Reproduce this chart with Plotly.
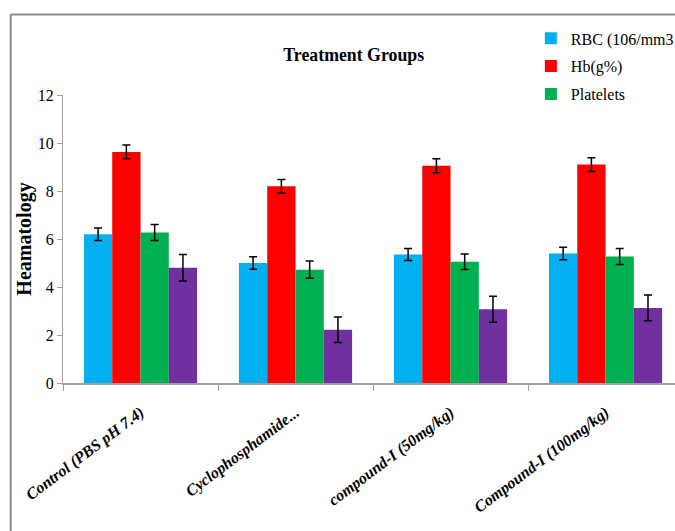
import plotly.graph_objects as go

# Treatment groups on the x axis
groups = ["Control (PBS pH 7.4)", "Cyclophosphamide...", "compound-I (50mg/kg)", "Compound-I (100mg/kg)"]

# Haematology parameters (mean values)
rbc = [6.2, 5.0, 5.35, 5.4]
hb = [9.63, 8.2, 9.05, 9.1]
platelets = [6.27, 4.72, 5.05, 5.27]
wbc = [4.8, 2.22, 3.07, 3.13]

# Error bar half-widths
rbc_err = [0.26, 0.26, 0.25, 0.26]
hb_err = [0.29, 0.28, 0.29, 0.29]
platelets_err = [0.33, 0.36, 0.32, 0.33]
wbc_err = [0.55, 0.53, 0.54, 0.54]

series = [
    ("RBC (106/mm3", rbc, rbc_err, "#00B0F0", True),
    ("Hb(g%)", hb, hb_err, "#FF0000", True),
    ("Platelets", platelets, platelets_err, "#00B050", True),
    ("WBC", wbc, wbc_err, "#7030A0", False),
]

fig = go.Figure()
for i, (name, vals, errs, color, show) in enumerate(series):
    fig.add_trace(go.Bar(
        x=groups, y=vals, name=name,
        marker=dict(color=color, line=dict(width=0)),
        error_y=dict(type="data", array=errs, visible=True,
                     color="#000000", thickness=1.5, width=4),
        showlegend=show, legendgroup=f"g{i}",
    ))

serif = "Liberation Serif"
axis_grey = "#a0a0a0"
frame_grey = "#8c8c8c"

fig.update_layout(
    width=675, height=531,
    paper_bgcolor="white", plot_bgcolor="white",
    margin=dict(l=63, r=0, t=95, b=148, autoexpand=False),
    barmode="group", bargap=0.27, bargroupgap=0,
    font=dict(family=serif, color="#000000"),
    title=dict(text="<b>Treatment Groups</b>", x=0.475, xref="paper",
               xanchor="center", y=1 - 55 / 531, yanchor="middle",
               font=dict(family=serif, size=17.8, color="#000000")),
    legend=dict(x=0.7645, xanchor="left", y=1.2556, yanchor="top",
                font=dict(family=serif, size=16, color="#000000"),
                traceorder="grouped", tracegroupgap=4,
                bgcolor="rgba(0,0,0,0)", itemsizing="constant"),
    showlegend=True,
)

fig.update_xaxes(
    range=[-0.5, 3.448], showline=True, linecolor=axis_grey, linewidth=2,
    ticks="outside", tickson="boundaries", ticklen=6, tickcolor=axis_grey,
    tickwidth=1, tickangle=-37, ticklabelstandoff=12,
    showgrid=False, zeroline=False,
    tickfont=dict(family=serif, size=16, color="#000000", weight="bold",
                  style="italic"),
)

fig.update_yaxes(
    range=[0, 12], dtick=2, showline=True, linecolor=axis_grey, linewidth=1,
    ticks="outside", ticklen=5, tickcolor=axis_grey, showgrid=False,
    zeroline=False,
    tickfont=dict(family=serif, size=16, color="#000000"),
    title=dict(text="<b>Heamatology</b>", standoff=0,
               font=dict(family=serif, size=20, color="#000000")),
)

# Outer frame: top and left edges
fx = (10.7 - 63) / 612
fy_top = (383 - 14.5) / 288
fy_bot = (383 - 540) / 288
fig.add_shape(type="line", xref="paper", yref="paper", x0=fx, x1=fx,
              y0=fy_bot, y1=fy_top, line=dict(color=frame_grey, width=2))
fig.add_shape(type="line", xref="paper", yref="paper", x0=fx, x1=1.05,
              y0=fy_top, y1=fy_top, line=dict(color=frame_grey, width=2))

fig.write_html("out.html")
